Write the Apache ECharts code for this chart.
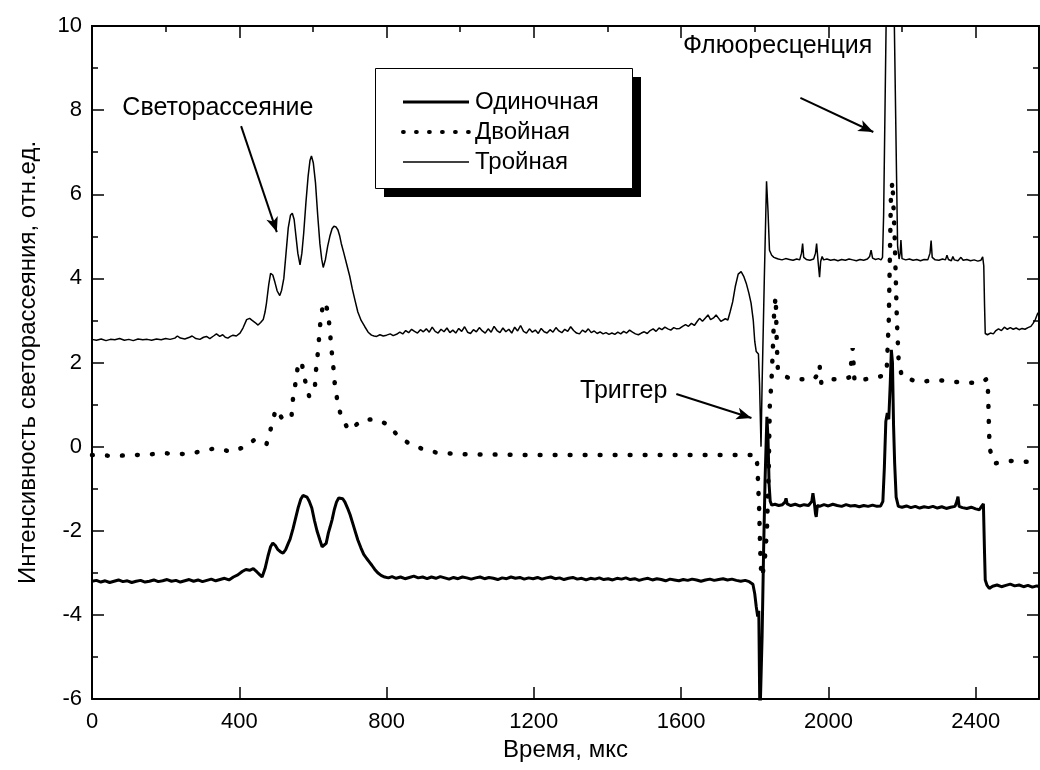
<!DOCTYPE html>
<html>
<head>
<meta charset="utf-8">
<script src="https://cdn.jsdelivr.net/npm/echarts@6/dist/echarts.min.js"></script>
<style>
  html, body { margin: 0; padding: 0; background: #fff; }
  #chart { width: 1040px; height: 770px; }
</style>
</head>
<body>
<div id="chart"></div>
<script>
// time (мкс), intensity pairs
const single = [[0,-3.2],[12,-3.18],[24,-3.22],[36,-3.19],[48,-3.23],[60,-3.2],[72,-3.17],[84,-3.21],[96,-3.19],[108,-3.23],[120,-3.2],[132,-3.18],[144,-3.22],[156,-3.2],[168,-3.17],[180,-3.21],[192,-3.19],[204,-3.16],[216,-3.2],[228,-3.18],[240,-3.22],[252,-3.19],[264,-3.16],[276,-3.2],[288,-3.17],[300,-3.21],[312,-3.18],[324,-3.15],[336,-3.19],[348,-3.16],[360,-3.13],[372,-3.17],[384,-3.1],[396,-3.05],[408,-2.97],[418,-2.92],[428,-2.94],[438,-2.9],[448,-2.98],[456,-3.05],[462,-3.1],[470,-2.9],[478,-2.6],[485,-2.38],[491,-2.29],[498,-2.35],[505,-2.45],[512,-2.5],[519,-2.53],[526,-2.45],[533,-2.3],[538,-2.2],[546,-1.95],[553,-1.7],[560,-1.45],[567,-1.25],[573,-1.16],[578,-1.15],[584,-1.2],[590,-1.3],[597,-1.46],[604,-1.75],[611,-2.0],[619,-2.22],[625,-2.38],[630,-2.41],[636,-2.3],[642,-2.05],[647,-1.9],[652,-1.74],[658,-1.5],[664,-1.32],[670,-1.22],[675,-1.2],[681,-1.24],[687,-1.32],[694,-1.46],[701,-1.62],[708,-1.82],[715,-2.02],[722,-2.22],[730,-2.4],[738,-2.56],[746,-2.66],[753,-2.74],[760,-2.82],[768,-2.92],[776,-3.0],[785,-3.06],[795,-3.1],[805,-3.12],[815,-3.09],[826,-3.13],[838,-3.1],[850,-3.14],[862,-3.11],[874,-3.08],[886,-3.12],[898,-3.1],[910,-3.14],[922,-3.1],[934,-3.13],[946,-3.09],[958,-3.12],[970,-3.15],[982,-3.11],[994,-3.14],[1006,-3.1],[1018,-3.12],[1030,-3.15],[1042,-3.12],[1054,-3.1],[1066,-3.14],[1078,-3.11],[1090,-3.13],[1102,-3.16],[1114,-3.12],[1126,-3.14],[1138,-3.1],[1150,-3.13],[1162,-3.11],[1174,-3.15],[1186,-3.12],[1198,-3.14],[1210,-3.11],[1222,-3.15],[1234,-3.12],[1246,-3.1],[1258,-3.14],[1270,-3.12],[1282,-3.16],[1294,-3.13],[1306,-3.11],[1318,-3.15],[1330,-3.13],[1342,-3.17],[1354,-3.13],[1366,-3.15],[1378,-3.12],[1390,-3.16],[1402,-3.14],[1414,-3.17],[1426,-3.13],[1438,-3.15],[1450,-3.12],[1462,-3.16],[1474,-3.14],[1486,-3.18],[1498,-3.15],[1510,-3.13],[1522,-3.17],[1534,-3.14],[1546,-3.16],[1558,-3.19],[1570,-3.15],[1582,-3.17],[1594,-3.19],[1606,-3.16],[1618,-3.18],[1630,-3.15],[1642,-3.17],[1654,-3.2],[1666,-3.17],[1678,-3.15],[1690,-3.18],[1702,-3.16],[1714,-3.14],[1726,-3.17],[1738,-3.15],[1750,-3.18],[1762,-3.2],[1774,-3.18],[1785,-3.21],[1795,-3.27],[1800,-3.5],[1804,-3.8],[1808,-4.04],[1811,-3.9],[1814,-6.5],[1817,-6.5],[1820,-4.5],[1824,-2.5],[1828,-0.8],[1833,0.71],[1836,0.2],[1839,-0.9],[1842,-1.3],[1846,-1.39],[1855,-1.37],[1865,-1.4],[1875,-1.38],[1882,-1.32],[1885,-1.23],[1888,-1.36],[1898,-1.4],[1910,-1.37],[1922,-1.41],[1934,-1.38],[1946,-1.4],[1955,-1.3],[1958,-1.11],[1962,-1.35],[1965,-1.6],[1967,-1.67],[1970,-1.4],[1976,-1.42],[1988,-1.38],[2000,-1.41],[2012,-1.37],[2024,-1.4],[2036,-1.42],[2048,-1.38],[2060,-1.41],[2072,-1.4],[2084,-1.43],[2096,-1.4],[2108,-1.42],[2120,-1.39],[2132,-1.42],[2142,-1.41],[2148,-1.3],[2152,-0.5],[2156,0.6],[2160,0.8],[2164,0.65],[2168,1.5],[2171,2.3],[2174,2.0],[2177,0.5],[2180,-0.4],[2184,-1.2],[2190,-1.42],[2200,-1.44],[2212,-1.41],[2224,-1.45],[2236,-1.42],[2248,-1.46],[2260,-1.43],[2272,-1.45],[2284,-1.42],[2296,-1.46],[2308,-1.43],[2320,-1.47],[2332,-1.44],[2344,-1.42],[2349,-1.3],[2352,-1.19],[2355,-1.42],[2364,-1.45],[2376,-1.47],[2388,-1.44],[2400,-1.48],[2410,-1.5],[2416,-1.42],[2421,-1.36],[2424,-2.5],[2426,-3.17],[2431,-3.3],[2437,-3.37],[2446,-3.32],[2458,-3.29],[2470,-3.33],[2482,-3.3],[2494,-3.27],[2506,-3.31],[2518,-3.29],[2530,-3.33],[2542,-3.3],[2554,-3.34],[2566,-3.31],[2572,-3.33]]

const double = [[0,-0.2],[60,-0.22],[120,-0.2],[203,-0.16],[260,-0.18],[334,-0.04],[379,-0.12],[417,0.0],[442,0.17],[474,0.06],[487,0.47],[499,0.89],[510,0.75],[521,0.62],[542,0.73],[546,1.15],[554,1.58],[560,1.98],[569,2.02],[578,1.6],[590,1.19],[600,1.3],[605,1.36],[608,1.78],[613,2.2],[617,2.61],[621,3.03],[626,3.3],[630,3.44],[636,3.35],[641,3.19],[646,2.77],[650,2.35],[655,1.94],[659,1.52],[666,1.11],[677,0.69],[698,0.39],[715,0.5],[732,0.63],[768,0.65],[798,0.55],[829,0.28],[863,0.06],[899,-0.06],[935,-0.14],[1000,-0.18],[1200,-0.2],[1400,-0.2],[1600,-0.2],[1805,-0.2],[1808,-0.64],[1812,-1.5],[1815,-2.5],[1818,-3.1],[1822,-3.0],[1828,-2.6],[1833,-2.0],[1838,-0.5],[1841,1.03],[1845,1.47],[1850,2.5],[1853,3.3],[1857,3.56],[1860,2.4],[1863,1.8],[1881,1.68],[1900,1.6],[1960,1.6],[1970,1.7],[1976,1.94],[1981,1.5],[2000,1.6],[2040,1.6],[2058,1.65],[2066,2.34],[2071,1.55],[2100,1.6],[2147,1.68],[2158,1.74],[2164,3.0],[2170,6.0],[2174,6.3],[2180,5.0],[2186,3.0],[2191,2.0],[2200,1.66],[2243,1.54],[2300,1.58],[2369,1.52],[2414,1.52],[2432,1.62],[2434,1.19],[2436,0.5],[2438,-0.05],[2450,-0.4],[2496,-0.34],[2536,-0.36],[2572,-0.35]]

const triple = [[0,2.55],[12,2.53],[25,2.56],[38,2.52],[50,2.55],[62,2.54],[75,2.57],[88,2.53],[100,2.55],[112,2.52],[125,2.56],[138,2.54],[150,2.55],[162,2.53],[175,2.56],[188,2.54],[200,2.57],[212,2.55],[225,2.58],[232,2.63],[240,2.58],[252,2.56],[265,2.6],[272,2.63],[282,2.57],[293,2.55],[303,2.6],[311,2.62],[320,2.57],[330,2.63],[338,2.68],[347,2.62],[355,2.66],[362,2.6],[369,2.58],[376,2.62],[383,2.65],[392,2.63],[402,2.7],[410,2.82],[420,3.02],[428,3.05],[435,3.0],[443,2.95],[451,2.89],[458,2.95],[465,3.02],[470,3.2],[474,3.42],[480,3.85],[485,4.12],[491,4.08],[497,3.9],[503,3.7],[510,3.59],[515,3.72],[521,4.0],[527,4.6],[533,5.2],[539,5.5],[544,5.55],[549,5.4],[554,5.0],[559,4.6],[565,4.32],[570,4.6],[575,5.08],[581,5.8],[587,6.43],[592,6.8],[596,6.91],[601,6.75],[607,6.27],[613,5.5],[619,4.82],[624,4.45],[628,4.26],[634,4.45],[640,4.76],[646,5.0],[652,5.18],[657,5.24],[663,5.22],[668,5.15],[673,5.0],[677,4.83],[684,4.6],[691,4.36],[700,4.05],[707,3.75],[714,3.49],[722,3.2],[731,3.0],[741,2.85],[750,2.72],[759,2.65],[766,2.63],[773,2.62],[782,2.66],[791,2.63],[800,2.65],[810,2.68],[818,2.64],[827,2.67],[836,2.72],[844,2.68],[852,2.76],[860,2.71],[868,2.79],[876,2.74],[884,2.7],[892,2.78],[900,2.73],[908,2.8],[916,2.72],[924,2.84],[932,2.74],[940,2.7],[948,2.79],[956,2.73],[964,2.82],[972,2.71],[980,2.77],[988,2.7],[996,2.81],[1004,2.74],[1012,2.85],[1020,2.72],[1028,2.69],[1036,2.78],[1044,2.73],[1052,2.83],[1060,2.75],[1068,2.7],[1076,2.8],[1084,2.72],[1092,2.86],[1100,2.76],[1108,2.71],[1116,2.82],[1124,2.73],[1132,2.79],[1140,2.7],[1148,2.84],[1156,2.75],[1164,2.88],[1172,2.74],[1180,2.7],[1188,2.8],[1196,2.72],[1204,2.77],[1212,2.69],[1220,2.81],[1228,2.73],[1236,2.7],[1244,2.78],[1252,2.72],[1260,2.83],[1268,2.75],[1276,2.71],[1284,2.79],[1292,2.74],[1300,2.85],[1308,2.76],[1316,2.7],[1324,2.68],[1332,2.77],[1340,2.72],[1348,2.8],[1356,2.71],[1364,2.75],[1372,2.69],[1380,2.73],[1388,2.68],[1396,2.71],[1404,2.67],[1412,2.7],[1420,2.67],[1428,2.72],[1436,2.68],[1444,2.74],[1452,2.7],[1460,2.77],[1468,2.72],[1476,2.68],[1484,2.66],[1492,2.7],[1500,2.73],[1508,2.69],[1516,2.76],[1524,2.8],[1532,2.74],[1540,2.82],[1548,2.78],[1556,2.84],[1564,2.8],[1572,2.77],[1580,2.83],[1588,2.8],[1596,2.81],[1604,2.86],[1612,2.9],[1620,2.86],[1628,2.93],[1636,2.88],[1644,2.98],[1650,3.05],[1658,2.98],[1666,3.06],[1673,3.13],[1680,3.02],[1688,3.06],[1695,3.13],[1702,3.05],[1708,2.98],[1713,2.97],[1720,3.04],[1727,3.01],[1733,3.2],[1740,3.44],[1747,3.8],[1755,4.1],[1763,4.16],[1770,4.05],[1777,3.88],[1784,3.65],[1790,3.41],[1796,3.0],[1800,2.5],[1804,2.26],[1810,2.2],[1813,1.5],[1817,0.0],[1820,1.5],[1826,4.0],[1832,6.31],[1836,5.6],[1840,4.67],[1846,4.55],[1852,4.5],[1858,4.48],[1864,4.46],[1874,4.44],[1884,4.47],[1894,4.45],[1904,4.43],[1914,4.46],[1922,4.44],[1927,4.6],[1930,4.83],[1933,4.5],[1940,4.45],[1950,4.43],[1960,4.46],[1965,4.6],[1968,4.83],[1972,4.4],[1976,4.03],[1979,4.4],[1983,4.52],[1987,4.44],[1996,4.46],[2006,4.43],[2016,4.45],[2026,4.42],[2036,4.45],[2046,4.43],[2056,4.46],[2066,4.44],[2076,4.42],[2086,4.45],[2096,4.43],[2106,4.46],[2112,4.52],[2116,4.67],[2120,4.48],[2128,4.45],[2136,4.47],[2143,4.44],[2147,4.5],[2150,5.5],[2157,10.2],[2168,14],[2179,10.1],[2185,6.5],[2188,4.77],[2192,4.46],[2195,4.6],[2197,4.91],[2200,4.47],[2210,4.44],[2220,4.46],[2230,4.43],[2240,4.45],[2250,4.42],[2260,4.45],[2270,4.44],[2276,4.6],[2279,4.9],[2282,4.5],[2290,4.44],[2300,4.43],[2310,4.46],[2318,4.44],[2322,4.55],[2326,4.45],[2334,4.42],[2338,4.52],[2342,4.44],[2352,4.42],[2360,4.5],[2366,4.43],[2376,4.45],[2386,4.42],[2396,4.44],[2406,4.41],[2414,4.43],[2419,4.51],[2422,4.3],[2424,3.4],[2426,2.69],[2432,2.66],[2440,2.7],[2448,2.68],[2455,2.76],[2462,2.8],[2470,2.76],[2478,2.84],[2486,2.79],[2494,2.83],[2502,2.79],[2510,2.82],[2518,2.78],[2526,2.81],[2534,2.79],[2542,2.83],[2550,2.86],[2556,2.93],[2562,3.02],[2568,3.16],[2572,3.2]]

const seriesNames = ['Одиночная', 'Двойная', 'Тройная']

// annotations: text position and arrow [from, to], in data units
const notes = [
  { text: 'Светорассеяние', at: [342, 8.05], arrow: [[405, 7.62], [502, 5.1]] },
  { text: 'Флюоресценция', at: [1862, 9.52], arrow: [[1924, 8.29], [2122, 7.48]] },
  { text: 'Триггер', at: [1444, 1.32], arrow: [[1587, 1.25], [1791, 0.68]] }
]

const X_MAX = 2572
const FONT = "'Liberation Sans', Arial, sans-serif"

const lineSingle = { color: '#000', width: 3 }
const lineDouble = { color: '#000', width: 4.5, type: [0.8, 14.2], cap: 'round' }
const lineTriple = { color: '#000', width: 1.5 }

const chart = echarts.init(document.getElementById('chart'), null, { renderer: 'canvas' })

const axisLine = { show: true, onZero: false, lineStyle: { color: '#000', width: 2 } }
const tickBig = { inside: true, length: 12, lineStyle: { color: '#000', width: 1.5 } }
const tickSmall = { inside: true, length: 6, lineStyle: { color: '#000', width: 1.5 } }
const xBase = { type: 'value', min: 0, max: X_MAX, splitLine: { show: false }, axisLine }

// legend frame with its offset black shadow
const legendBox = [
  { type: 'rect', z: 5, shape: { x: 384, y: 77, width: 257, height: 120 }, style: { fill: '#000' } },
  { type: 'rect', z: 6, shape: { x: 375.5, y: 68.5, width: 257, height: 120 }, style: { fill: '#fff', stroke: '#000', lineWidth: 1 } }
]

const option = {
  animation: false,
  backgroundColor: '#fff',
  textStyle: { fontFamily: FONT, color: '#000' },
  grid: { left: 92, right: 1, top: 26, bottom: 71 },
  legend: {
    z: 20,
    orient: 'vertical',
    left: 377,
    top: 68,
    data: [
      { name: seriesNames[0], lineStyle: { width: 3 } },
      { name: seriesNames[1], lineStyle: { width: 4, type: [0.8, 12.2], cap: 'round' } },
      { name: seriesNames[2], lineStyle: { width: 1.5 } }
    ],
    itemWidth: 66,
    itemHeight: 14,
    itemGap: 6,
    padding: [22, 30, 16, 24],
    itemStyle: { opacity: 0 },
    textStyle: { fontSize: 24, fontFamily: FONT, color: '#000', padding: [0, 0, 0, 1] }
  },
  graphic: legendBox,
  xAxis: [
    {
      ...xBase,
      interval: 400,
      axisTick: tickBig,
      axisLabel: { fontSize: 22, color: '#000', margin: 12, showMaxLabel: false, formatter: v => String(v) },
      name: 'Время, мкс',
      nameLocation: 'middle',
      nameGap: 39,
      nameTextStyle: { fontSize: 24, color: '#000' }
    },
    { ...xBase, interval: 200, axisTick: tickSmall, axisLabel: { show: false } },
    { ...xBase, position: 'top', interval: 400, axisTick: tickBig, axisLabel: { show: false } },
    { ...xBase, position: 'top', interval: 200, axisTick: tickSmall, axisLabel: { show: false } }
  ],
  yAxis: [
    {
      type: 'value',
      min: -6,
      max: 10,
      interval: 2,
      axisLine,
      splitLine: { show: false },
      axisTick: tickBig,
      minorTick: { show: true, splitNumber: 2, length: 6, lineStyle: { color: '#000', width: 1.5 } },
      axisLabel: { fontSize: 22, color: '#000', margin: 10 },
      name: 'Интенсивность светорассеяния, отн.ед.',
      nameLocation: 'middle',
      nameGap: 52,
      nameTextStyle: { fontSize: 24, color: '#000' }
    },
    {
      type: 'value',
      position: 'right',
      min: -6,
      max: 10,
      interval: 2,
      axisLine,
      splitLine: { show: false },
      axisTick: tickBig,
      minorTick: { show: true, splitNumber: 2, length: 6, lineStyle: { color: '#000', width: 1.5 } },
      axisLabel: { show: false }
    }
  ],
  series: [
    {
      name: seriesNames[0],
      type: 'line',
      data: single,
      symbol: 'none',
      color: '#000',
      lineStyle: lineSingle,
      z: 3
    },
    {
      name: seriesNames[1],
      type: 'line',
      data: double,
      symbol: 'none',
      color: '#000',
      lineStyle: lineDouble,
      z: 2
    },
    {
      name: seriesNames[2],
      type: 'line',
      data: triple,
      symbol: 'none',
      color: '#000',
      lineStyle: lineTriple,
      z: 4,
      markLine: {
        silent: true,
        symbol: ['none', 'arrow'],
        symbolSize: [9, 15],
        label: { show: false },
        lineStyle: { color: '#000', width: 2, type: 'solid' },
        data: notes.map(n => [{ coord: n.arrow[0] }, { coord: n.arrow[1] }])
      }
    }
  ]
}

chart.setOption(option)

// annotation texts placed through the axes
const noteTexts = notes.map(n => {
  const p = chart.convertToPixel({ xAxisIndex: 0, yAxisIndex: 0 }, n.at)
  return {
    type: 'text',
    x: p[0],
    y: p[1],
    style: {
      text: n.text,
      fontSize: 25,
      fontFamily: FONT,
      fill: '#000',
      align: 'center',
      verticalAlign: 'middle'
    }
  }
})
chart.setOption({ graphic: legendBox.concat(noteTexts) })
</script>
</body>
</html>
